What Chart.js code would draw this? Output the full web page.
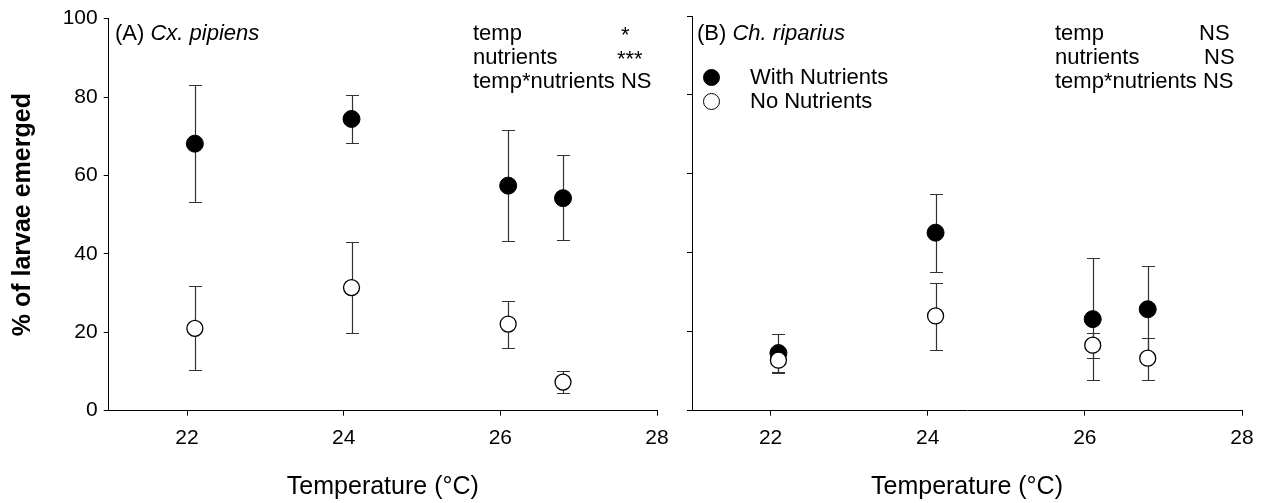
<!DOCTYPE html>
<html>
<head>
<meta charset="utf-8">
<script src="https://cdn.jsdelivr.net/npm/chart.js@4.4.1/dist/chart.umd.min.js"></script>
<style>
  body { margin: 0; background: #fff; width: 1271px; height: 503px; overflow: hidden; position: relative;
         font-family: Arial, "Liberation Sans", sans-serif; color: #000; }
  canvas { position: absolute; top: 0; }
  .note { position: absolute; font-size: 22px; line-height: 24px; white-space: nowrap; }
  .legend-row { position: absolute; font-size: 22px; line-height: 24px; white-space: nowrap; }
  .legend-row span.dot { position: absolute; width: 15px; height: 15px; border-radius: 50%;
                          border: 1.3px solid #000; top: 3.5px; }
</style>
</head>
<body>
<canvas id="chartA" width="680" height="503" style="left:0"></canvas>
<canvas id="chartB" width="591" height="503" style="left:680px"></canvas>

<div class="note" style="left:115px; top:21px">(A) <i>Cx. pipiens</i></div>
<div class="note" style="left:473px; top:21px">temp</div>
<div class="note" style="left:621px; top:23px">*</div>
<div class="note" style="left:473px; top:45px">nutrients</div>
<div class="note" style="left:617px; top:47px">***</div>
<div class="note" style="left:473px; top:69px">temp*nutrients NS</div>

<div class="note" style="left:697px; top:21px">(B) <i>Ch. riparius</i></div>
<div class="note" style="left:1055px; top:21px">temp</div>
<div class="note" style="left:1199px; top:21px">NS</div>
<div class="note" style="left:1055px; top:45px">nutrients</div>
<div class="note" style="left:1204px; top:45px">NS</div>
<div class="note" style="left:1055px; top:69px">temp*nutrients NS</div>

<div id="legendB"></div>

<script>
// temperatures (°C) at which each treatment was measured
const temps = [22.1, 24.1, 26.1, 26.8];
const xTicks = [22, 24, 26, 28];
const yTicks = [0, 20, 40, 60, 80, 100];

// (A) Cx. pipiens - % emerged, with upper / lower error bar ends
const cxWith   = [68.1, 74.4, 57.4, 54.2];
const cxWithHi = [83.0, 80.6, 71.5, 65.1];
const cxWithLo = [53.2, 68.2, 43.4, 43.5];
const cxNo     = [21.0, 31.4, 22.1, 7.3];
const cxNoHi   = [31.7, 43.1, 27.9, 10.1];
const cxNoLo   = [10.3, 19.9, 16.1, 4.4];

// (B) Ch. riparius
const chWith   = [14.6, 45.1, 23.2, 25.7];
const chWithHi = [19.4, 54.8, 38.8, 36.7];
const chWithLo = [9.5, 35.2, 7.8, 14.7];
const chNo     = [12.8, 24.0, 16.6, 13.3];
const chNoHi   = [15.8, 32.4, 19.8, 18.5];
const chNoLo   = [9.9, 15.4, 13.4, 7.9];

const seriesNames = ['With Nutrients', 'No Nutrients'];
const FONT = 'Arial, "Liberation Sans", sans-serif';

// draws the error bars (behind the markers) from the lo/hi arrays
const errorBars = {
  id: 'errorBars',
  beforeDatasetsDraw(chart) {
    const { ctx, scales: { x, y } } = chart;
    ctx.save();
    ctx.strokeStyle = '#333';
    ctx.lineWidth = 1.2;
    chart.data.datasets.forEach(ds => {
      ds.data.forEach((p, i) => {
        const px = Math.round(x.getPixelForValue(p.x)) + 0.5;
        const top = Math.round(y.getPixelForValue(ds.hi[i])) + 0.5;
        const bot = Math.round(y.getPixelForValue(ds.lo[i])) + 0.5;
        ctx.beginPath();
        ctx.moveTo(px, top); ctx.lineTo(px, bot);
        ctx.moveTo(px - 6.5, top); ctx.lineTo(px + 6.5, top);
        ctx.moveTo(px - 6.5, bot); ctx.lineTo(px + 6.5, bot);
        ctx.stroke();
      });
    });
    ctx.restore();
  }
};

function makeDatasets(withVals, withHi, withLo, noVals, noHi, noLo) {
  return [
    {
      label: seriesNames[0],
      data: temps.map((t, i) => ({ x: t, y: withVals[i] })),
      hi: withHi, lo: withLo,
      pointRadius: 8.5, pointBackgroundColor: '#000', pointBorderColor: '#000', pointBorderWidth: 1,
      order: 1
    },
    {
      label: seriesNames[1],
      data: temps.map((t, i) => ({ x: t, y: noVals[i] })),
      hi: noHi, lo: noLo,
      pointRadius: 8, pointBackgroundColor: '#fff', pointBorderColor: '#000', pointBorderWidth: 1.3,
      order: 0  // open circles sit on top
    }
  ];
}

function makeChart(id, datasets, opts) {
  return new Chart(document.getElementById(id), {
    type: 'scatter',
    data: { datasets },
    plugins: [errorBars],
    options: {
      responsive: false,
      animation: false,
      layout: { padding: { left: 0, right: opts.padRight, top: 16, bottom: 0 } },
      plugins: { legend: { display: false }, tooltip: { enabled: false } },
      scales: {
        x: {
          type: 'linear', min: 21, max: 28,
          afterBuildTicks: s => { s.ticks = xTicks.map(v => ({ value: v })); },
          afterFit: s => { s.height = 92.3; },
          border: { color: '#000', width: 1 },
          grid: { drawOnChartArea: false, drawTicks: true, tickLength: 5, color: '#000' },
          ticks: { color: '#000', font: { family: FONT, size: 21 }, padding: 10, maxRotation: 0, autoSkip: false },
          title: { display: true, text: 'Temperature (°C)', color: '#000',
                   font: { family: FONT, size: 25 }, padding: { top: 0, bottom: 1 } }
        },
        y: {
          min: 0, max: 100,
          afterBuildTicks: s => { s.ticks = yTicks.map(v => ({ value: v })); },
          afterFit: s => { s.width = opts.yWidth; },
          border: { color: '#000', width: 1 },
          grid: { drawOnChartArea: false, drawTicks: true, tickLength: 5, color: '#000' },
          ticks: { color: '#000', font: { family: FONT, size: 21 }, padding: 6, autoSkip: false,
                   display: opts.yLabels },
          title: { display: opts.yLabels, text: '% of larvae emerged', color: '#000',
                   font: { family: FONT, size: 25, weight: 'bold' }, padding: { top: 8, bottom: 0 } }
        }
      }
    }
  });
}

const chartA = makeChart('chartA',
  makeDatasets(cxWith, cxWithHi, cxWithLo, cxNo, cxNoHi, cxNoLo),
  { padRight: 23, yWidth: 108.7, yLabels: true });

const chartB = makeChart('chartB',
  makeDatasets(chWith, chWithHi, chWithLo, chNo, chNoHi, chNoLo),
  { padRight: 29, yWidth: 12, yLabels: false });

// html legend for panel B built from the chart's datasets
const legendEl = document.getElementById('legendB');
chartB.data.datasets.forEach((ds, i) => {
  const row = document.createElement('div');
  row.className = 'legend-row';
  row.style.left = '703px';
  row.style.top = (65 + i * 24) + 'px';
  const dot = document.createElement('span');
  dot.className = 'dot';
  dot.style.left = '0px';
  dot.style.background = ds.pointBackgroundColor;
  row.appendChild(dot);
  const txt = document.createElement('span');
  txt.style.marginLeft = '47px';
  txt.textContent = ds.label;
  row.appendChild(txt);
  legendEl.appendChild(row);
});
</script>
</body>
</html>
